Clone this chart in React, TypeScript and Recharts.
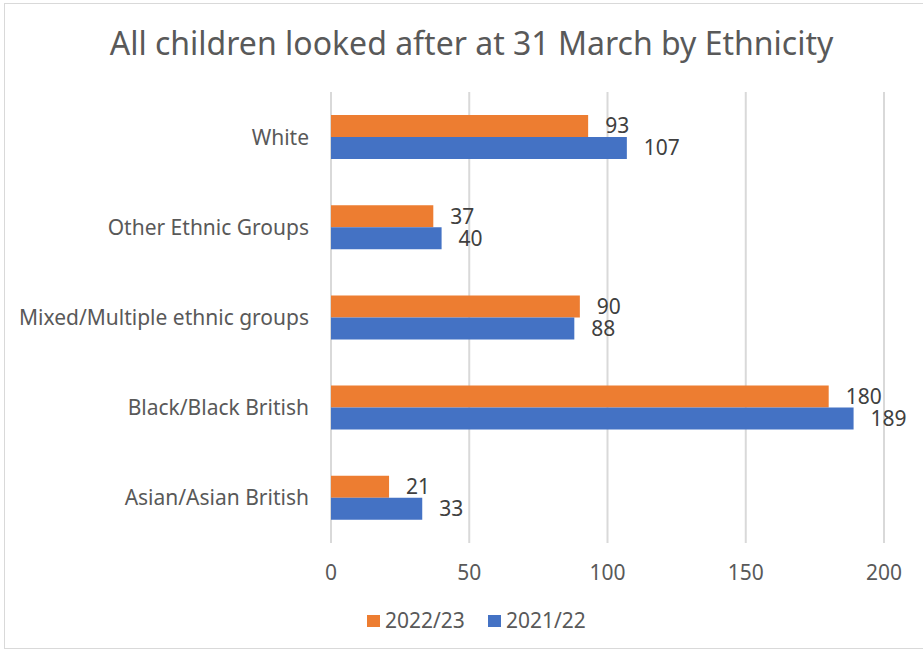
import React from 'react';
import { BarChart, Bar, XAxis, YAxis, CartesianGrid, LabelList } from 'recharts';

const categories = [
  'White',
  'Other Ethnic Groups',
  'Mixed/Multiple ethnic groups',
  'Black/Black British',
  'Asian/Asian British',
];
const values2223 = [93, 37, 90, 180, 21];
const values2122 = [107, 40, 88, 189, 33];
const xTicks = [0, 50, 100, 150, 200];

const series = [
  { key: 'y2223', name: '2022/23', color: '#ED7D31', values: values2223 },
  { key: 'y2122', name: '2021/22', color: '#4472C4', values: values2122 },
];

const data = categories.map((name, i) => ({
  name,
  y2223: values2223[i],
  y2122: values2122[i],
}));

const FONT = '"Noto Sans", "Open Sans", sans-serif';
const TEXT = '#595959';

const App: React.FC = () => {
  return (
    <div
      style={{
        position: 'absolute',
        left: 0,
        top: 0,
        width: 923,
        height: 652,
        background: '#fff',
        fontFamily: FONT,
        overflow: 'hidden',
      }}
    >
      {/* chart frame, right edge falls off the picture */}
      <div
        style={{
          position: 'absolute',
          left: 4,
          top: 3,
          width: 940,
          height: 644,
          border: '1.5px solid #d9d9d9',
        }}
      />
      <div
        style={{
          position: 'absolute',
          left: 0,
          top: 25,
          width: 943,
          textAlign: 'center',
          fontSize: 32,
          color: TEXT,
          lineHeight: '36px',
          whiteSpace: 'nowrap',
        }}
      >
        All children looked after at 31 March by Ethnicity
      </div>

      <div style={{ position: 'absolute', left: 0, top: 0 }}>
        <BarChart
          width={923}
          height={652}
          data={data}
          layout="vertical"
          margin={{ top: 92, right: 39, bottom: 79, left: 0 }}
          barGap={0}
          barSize={22}
        >
          <CartesianGrid horizontal={false} stroke="#d9d9d9" strokeWidth={2} />
          <XAxis
            type="number"
            domain={[0, 200]}
            ticks={xTicks}
            axisLine={false}
            tickLine={false}
            tickSize={0}
            tickMargin={22}
            height={30}
            tick={{ fill: TEXT, fontSize: 21, fontFamily: FONT }}
          />
          <YAxis
            type="category"
            dataKey="name"
            width={331}
            axisLine={false}
            tickLine={false}
            tickSize={0}
            tickMargin={22}
            tick={{ fill: TEXT, fontSize: 21, fontFamily: FONT }}
          />
          {series.map((s) => (
            <Bar key={s.key} dataKey={s.key} name={s.name} fill={s.color} isAnimationActive={false}>
              <LabelList
                dataKey={s.key}
                position="right"
                offset={17}
                fill="#404040"
                fontSize={21}
                fontFamily={FONT}
              />
            </Bar>
          ))}
        </BarChart>
      </div>

      <div
        style={{
          position: 'absolute',
          left: 367,
          top: 608,
          height: 24,
          display: 'flex',
          alignItems: 'center',
          gap: 23,
          fontSize: 21,
          lineHeight: '24px',
          color: TEXT,
        }}
      >
        {series.map((s) => (
          <div key={s.key} style={{ display: 'flex', alignItems: 'center', gap: 5 }}>
            <span style={{ width: 13, height: 12, background: s.color, display: 'inline-block', marginTop: 2 }} />
            <span>{s.name}</span>
          </div>
        ))}
      </div>
    </div>
  );
};

export default App;
